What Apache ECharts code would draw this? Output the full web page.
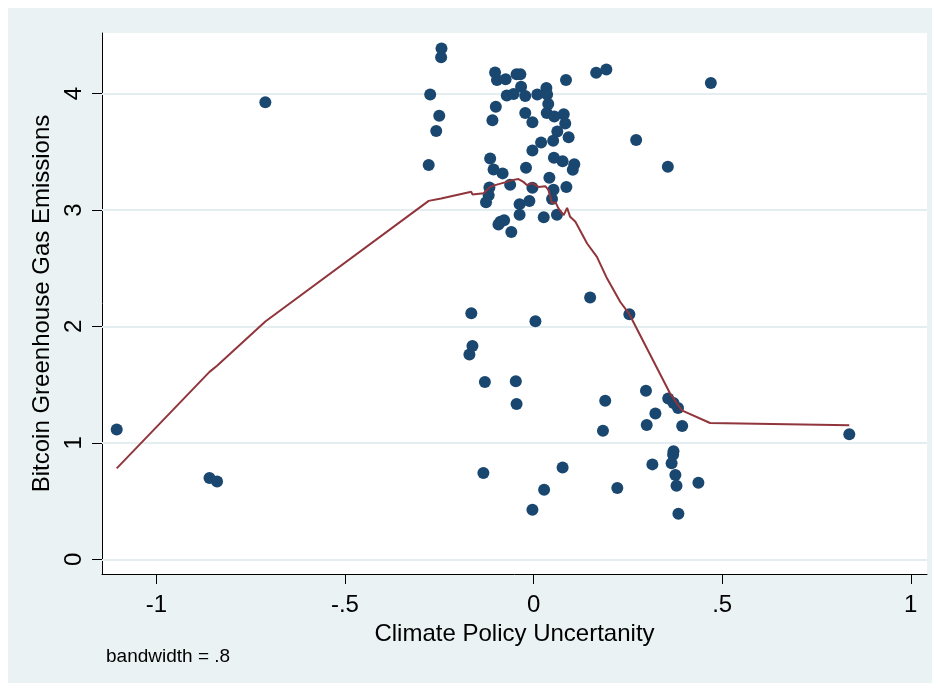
<!DOCTYPE html>
<html>
<head>
<meta charset="utf-8">
<script src="https://cdn.jsdelivr.net/npm/echarts@6/dist/echarts.min.js"></script>
<style>
  html, body { margin: 0; padding: 0; background: #ffffff; }
  #chart { width: 939px; height: 690px; }
</style>
</head>
<body>
<div id="chart"></div>
<script>
// Climate policy uncertainty vs. Bitcoin greenhouse gas emissions
const cpu = [
  -1.105, -0.859, -0.839, -0.711, -0.244, -0.245, -0.274, -0.250, -0.258, -0.278,
  -0.102, -0.097, -0.074, -0.045, -0.035, 0.086, 0.166, 0.193, 0.470, -0.071,
  -0.053, -0.033, -0.022, 0.010, 0.034, 0.036, 0.039, -0.100, -0.109, -0.022,
  -0.003, 0.035, 0.055, 0.080, 0.084, 0.063, 0.093, 0.052, 0.020, -0.003,
  0.272, -0.115, -0.106, -0.082, -0.020, 0.054, 0.077, 0.108, 0.104, 0.356,
  0.042, -0.117, -0.119, -0.126, -0.062, -0.003, 0.053, 0.087, 0.049, -0.037,
  -0.011, -0.037, 0.027, 0.062, -0.088, -0.078, -0.093, -0.059, 0.150, 0.254,
  -0.165, 0.005, -0.162, -0.170, -0.129, -0.047, -0.045, 0.190, 0.184, -0.133,
  0.077, 0.028, -0.003, 0.222, 0.298, 0.357, 0.371, 0.383, 0.323, 0.300,
  0.394, 0.371, 0.370, 0.366, 0.315, 0.376, 0.379, 0.437, 0.384, 0.837
];
const emissions = [
  1.116, 0.700, 0.670, 3.925, 4.387, 4.310, 3.992, 3.808, 3.677, 3.385,
  4.180, 4.115, 4.121, 4.164, 4.164, 4.115, 4.178, 4.205, 4.089, 3.982,
  3.995, 4.058, 3.978, 3.992, 4.046, 3.992, 3.909, 3.886, 3.771, 3.832,
  3.752, 3.832, 3.802, 3.821, 3.743, 3.673, 3.625, 3.595, 3.580, 3.511,
  3.600, 3.442, 3.348, 3.314, 3.363, 3.448, 3.419, 3.392, 3.346, 3.370,
  3.276, 3.192, 3.127, 3.067, 3.216, 3.190, 3.174, 3.198, 3.095, 3.050,
  3.077, 2.958, 2.938, 2.958, 2.898, 2.912, 2.875, 2.811, 2.248, 2.105,
  2.113, 2.045, 1.832, 1.759, 1.523, 1.529, 1.334, 1.363, 1.104, 0.741,
  0.790, 0.599, 0.427, 0.613, 1.449, 1.381, 1.343, 1.300, 1.252, 1.154,
  1.145, 0.928, 0.898, 0.825, 0.816, 0.724, 0.633, 0.659, 0.393, 1.074
];

// Lowess smooth (bandwidth = .8)
const smoothX = [
  -1.105, -0.859, -0.839, -0.711, -0.278, -0.245, -0.165, -0.162, -0.132, -0.115,
  -0.102, -0.071, -0.057, -0.040, -0.027, -0.017, -0.004, 0.013, 0.031, 0.040,
  0.049, 0.058, 0.066, 0.080, 0.089, 0.097, 0.111, 0.142, 0.168, 0.195,
  0.230, 0.254, 0.362, 0.393, 0.468, 0.837
];
const smoothY = [
  0.782, 1.610, 1.663, 2.042, 3.078, 3.099, 3.156, 3.133, 3.144, 3.198,
  3.213, 3.241, 3.256, 3.265, 3.241, 3.213, 3.230, 3.198, 3.204, 3.170,
  3.058, 3.067, 3.013, 2.955, 3.018, 2.941, 2.898, 2.712, 2.597, 2.411,
  2.210, 2.105, 1.424, 1.280, 1.171, 1.151
];

const xTicks = [-1, -0.5, 0, 0.5, 1];
const xTickLabels = ['-1', '-.5', '0', '.5', '1'];
const yTicks = [0, 1, 2, 3, 4];
const yTickLabels = ['0', '1', '2', '3', '4'];

const FONT = "'Liberation Sans', Arial, Helvetica, sans-serif";
const NAVY = '#1a476f';
const MAROON = '#90353b';
const GRID_LINE = '#e4eef0';
const REGION = '#eaf2f3';

const chart = echarts.init(document.getElementById('chart'), null, { renderer: 'canvas' });

const option = {
  animation: false,
  backgroundColor: '#ffffff',
  textStyle: { fontFamily: FONT },
  graphic: [
    {
      type: 'rect', z: -10, silent: true,
      shape: { x: 8, y: 8, width: 924, height: 675 },
      style: { fill: REGION }
    },
    {
      type: 'text', left: 106, top: 647, silent: true,
      style: { text: 'bandwidth = .8', font: '19px ' + FONT, fill: '#000' }
    }
  ],
  grid: {
    left: 102, right: 12, top: 33, bottom: 116,
    show: true, backgroundColor: '#ffffff', borderWidth: 0
  },
  xAxis: {
    type: 'value',
    min: -1.144, max: 1.043,
    name: 'Climate Policy Uncertanity',
    nameLocation: 'middle',
    nameGap: 32,
    nameTextStyle: { fontSize: 24, color: '#000', fontFamily: FONT },
    axisLine: { show: true, onZero: false, lineStyle: { color: '#000', width: 1 } },
    axisTick: { show: true, inside: false, length: 10, customValues: xTicks, lineStyle: { color: '#000' } },
    axisLabel: {
      customValues: xTicks,
      margin: 19,
      fontSize: 24, color: '#000', fontFamily: FONT,
      formatter: v => xTickLabels[xTicks.indexOf(v)]
    },
    splitLine: { show: false }
  },
  yAxis: {
    type: 'value',
    min: -0.125, max: 4.519,
    name: 'Bitcoin Greenhouse Gas Emissions',
    nameLocation: 'middle',
    nameRotate: 90,
    nameGap: 38,
    nameTextStyle: { fontSize: 24, color: '#000', fontFamily: FONT },
    axisLine: { show: true, onZero: false, lineStyle: { color: '#000', width: 1 } },
    axisTick: { show: true, inside: false, length: 10, customValues: yTicks, lineStyle: { color: '#000' } },
    axisLabel: {
      customValues: yTicks,
      rotate: 90,
      margin: 16,
      fontSize: 24, color: '#000', fontFamily: FONT,
      formatter: v => yTickLabels[yTicks.indexOf(v)]
    },
    splitLine: { show: false }
  },
  series: [
    {
      // horizontal grid lines at the y ticks, kept beneath the marks
      type: 'line', data: [], z: 1, silent: true,
      markLine: {
        z: 1,
        silent: true, symbol: 'none', animation: false,
        label: { show: false },
        lineStyle: { color: GRID_LINE, width: 2, type: 'solid' },
        data: yTicks.map(v => ({ yAxis: v }))
      }
    },
    {
      type: 'scatter', z: 4,
      symbol: 'circle', symbolSize: 12,
      itemStyle: { color: NAVY, opacity: 1 },
      data: cpu.map((x, i) => [x, emissions[i]])
    },
    {
      type: 'line', z: 5,
      showSymbol: false, symbol: 'none',
      lineStyle: { color: MAROON, width: 2 },
      data: smoothX.map((x, i) => [x, smoothY[i]])
    }
  ]
};

chart.setOption(option);
</script>
</body>
</html>
